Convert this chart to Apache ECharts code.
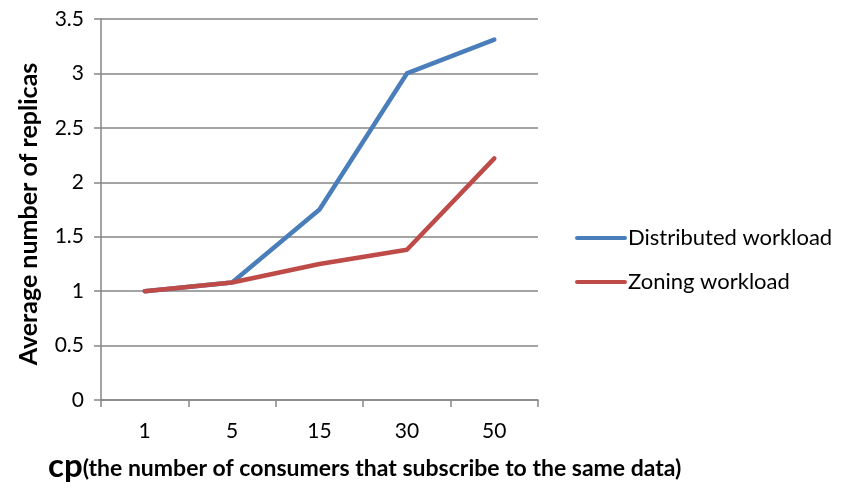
<!DOCTYPE html>
<html>
<head>
<meta charset="utf-8">
<script src="https://cdn.jsdelivr.net/npm/echarts@6/dist/echarts.min.js"></script>
<style>
  html, body { margin: 0; padding: 0; background: #fff; }
  #chart { width: 856px; height: 488px; }
</style>
</head>
<body>
<div id="chart"></div>
<script>
// Consumers per data item (category axis)
const categories = ['1', '5', '15', '30', '50'];
// Average number of replicas per workload
const distributed = [1, 1.08, 1.75, 3.0, 3.31];
const zoning = [1, 1.08, 1.25, 1.38, 2.22];
const seriesNames = ['Distributed workload', 'Zoning workload'];

const FONT = 'Lato, "Open Sans", sans-serif';
const lineIcon = 'path://M2,0 L50,0 A2,2 0 0 1 50,4 L2,4 A2,2 0 0 1 2,0 Z';

const chart = echarts.init(document.getElementById('chart'), null, { renderer: 'canvas' });
chart.setOption({
  animation: false,
  backgroundColor: '#ffffff',
  textStyle: { fontFamily: FONT },
  grid: { left: 101, right: 318, top: 19, bottom: 88, containLabel: false },
  title: {
    left: 48, top: 450,
    padding: 0,
    text: '{a|cp}{b|(the number of consumers that subscribe to the same data)}',
    textStyle: {
      rich: {
        a: { fontFamily: FONT, fontWeight: 'bold', fontSize: 33, color: '#000', verticalAlign: 'bottom' },
        b: { fontFamily: FONT, fontWeight: 'bold', fontSize: 23, color: '#000', verticalAlign: 'bottom', padding: [0, 0, 3, 0] }
      }
    }
  },
  legend: {
    orient: 'vertical',
    left: 575, top: 227,
    padding: 0,
    itemWidth: 52, itemHeight: 4, itemGap: 22,
    icon: lineIcon,
    data: seriesNames,
    textStyle: { fontFamily: FONT, fontSize: 22, color: '#000', padding: [0, 0, 0, -4] }
  },
  xAxis: {
    type: 'category',
    data: categories,
    boundaryGap: true,
    axisLine: { lineStyle: { color: '#868686', width: 1.5 } },
    axisTick: { show: true, length: 7, lineStyle: { color: '#868686', width: 1.5 } },
    axisLabel: { fontFamily: FONT, fontSize: 21, color: '#000', margin: 21 },
    splitLine: { show: false }
  },
  yAxis: {
    type: 'value',
    min: 0, max: 3.5, interval: 0.5,
    name: 'Average number of replicas',
    nameLocation: 'middle',
    nameGap: 60,
    nameTextStyle: { fontFamily: FONT, fontWeight: 'bold', fontSize: 25, color: '#000', padding: [0, 9, 0, 0] },
    axisLine: { show: true, lineStyle: { color: '#868686', width: 1.5 } },
    axisTick: { show: true, length: 7, lineStyle: { color: '#868686', width: 1.5 } },
    axisLabel: { fontFamily: FONT, fontSize: 21, color: '#000', margin: 17 },
    splitLine: { show: true, lineStyle: { color: '#868686', width: 1.5 } }
  },
  series: [
    {
      name: seriesNames[0], type: 'line', data: distributed,
      symbol: 'none', color: '#4A7EBB',
      lineStyle: { width: 4.5, cap: 'round', join: 'round' }
    },
    {
      name: seriesNames[1], type: 'line', data: zoning,
      symbol: 'none', color: '#BE4B48',
      lineStyle: { width: 4.5, cap: 'round', join: 'round' }
    }
  ]
});
</script>
</body>
</html>
